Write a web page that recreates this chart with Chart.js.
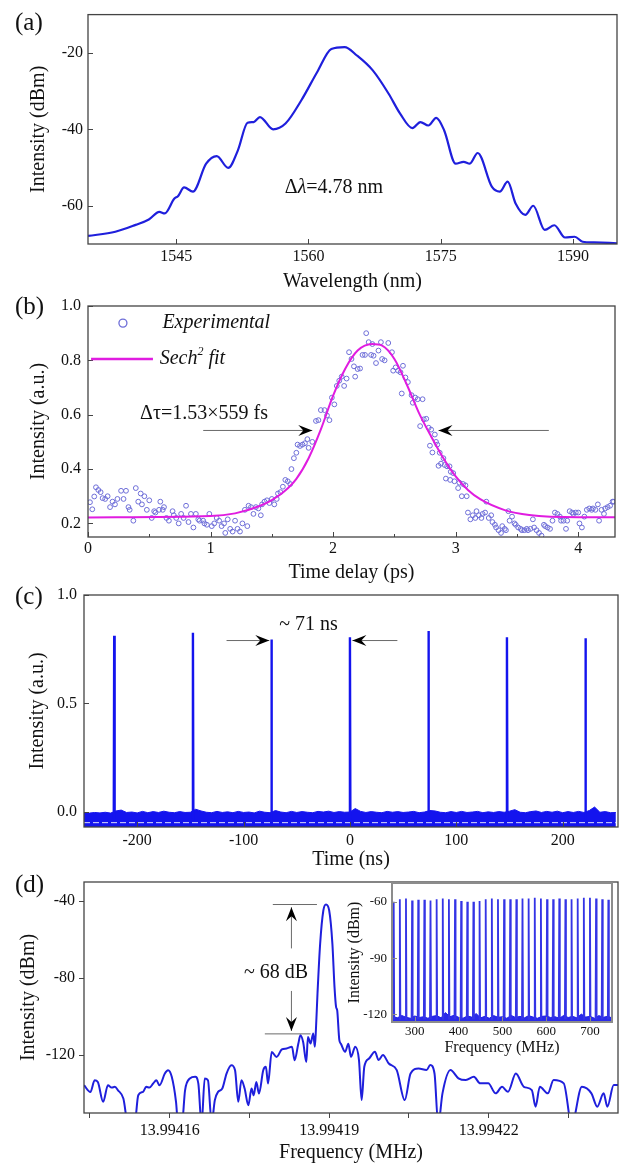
<!DOCTYPE html>
<html lang="en">
<head>
<meta charset="UTF-8">
<title>Mode-locked fiber laser output</title>
<script src="https://cdn.jsdelivr.net/npm/chart.js"></script>
<style>
  body { margin: 0; background: #fff; }
  #page { position: relative; width: 620px; height: 1164px; overflow: hidden; }
  #page canvas { position: absolute; left: 0; top: 0; }
  .tag { position: absolute; left: 15px; font-family: 'Liberation Serif', 'Times New Roman', serif; font-size: 25px; line-height: 26px; color: #111; }
</style>
</head>
<body>
<div id="page">
  <canvas id="chartA" width="620" height="1164"></canvas>
  <canvas id="chartB" width="620" height="1164"></canvas>
  <canvas id="chartC" width="620" height="1164"></canvas>
  <canvas id="chartD" width="620" height="1164"></canvas>
  <canvas id="chartInset" width="620" height="1164"></canvas>
  <div class="tag" style="top:9px">(a)</div>
  <div class="tag" style="top:293px">(b)</div>
  <div class="tag" style="top:583px">(c)</div>
  <div class="tag" style="top:871px">(d)</div>
</div>

<script>
// (a) optical spectrum
const wavelengthNm = [1535, 1538.1, 1540.4, 1541.9, 1543.1, 1543.7, 1544.8, 1545.2, 1545.9, 1546.9, 1548.4, 1549.6, 1550.9, 1552.0, 1553.1, 1553.8, 1554.5, 1556.0, 1557.4, 1559.2, 1561.0, 1562.6, 1564.1, 1565.5, 1567.3, 1569.1, 1570.4, 1571.8, 1572.7, 1573.6, 1574.5, 1575.4, 1576.7, 1577.6, 1578.3, 1579.2, 1580.8, 1581.7, 1582.6, 1583.5, 1584.6, 1585.5, 1586.8, 1587.9, 1589.1, 1590.2, 1591.1, 1592.4, 1595];
const spectrumDbm = [-67.9, -66.8, -65.0, -63.6, -61.6, -62.0, -58.1, -57.5, -55.2, -56.3, -49.0, -47.0, -50.1, -45.5, -38.3, -38.1, -36.8, -40.0, -38.5, -32.4, -25.0, -19.0, -18.5, -20.7, -24.6, -30.7, -35.9, -39.7, -38.1, -39.0, -37.0, -40.3, -49.0, -48.5, -49.0, -46.2, -55.0, -56.3, -53.7, -59.4, -62.4, -60.0, -66.3, -65.1, -68.3, -68.1, -69.4, -69.6, -69.8];
const ticksWavelength = [1545, 1560, 1575, 1590];
const ticksSpectrum = [-60, -40, -20];

// (b) autocorrelation trace
const expTimePs = [0.016, 0.035, 0.051, 0.065, 0.084, 0.103, 0.119, 0.14, 0.16, 0.18, 0.20, 0.22, 0.24, 0.27, 0.29, 0.31, 0.33, 0.34, 0.37, 0.39, 0.41, 0.43, 0.44, 0.46, 0.48, 0.50, 0.52, 0.54, 0.55, 0.58, 0.59, 0.61, 0.62, 0.64, 0.66, 0.69, 0.70, 0.72, 0.74, 0.76, 0.78, 0.80, 0.82, 0.84, 0.86, 0.88, 0.90, 0.91, 0.94, 0.95, 0.97, 0.99, 1.01, 1.03, 1.05, 1.07, 1.09, 1.11, 1.12, 1.14, 1.16, 1.18, 1.20, 1.22, 1.24, 1.26, 1.28, 1.30, 1.31, 1.33, 1.35, 1.37, 1.39, 1.41, 1.42, 1.44, 1.46, 1.48, 1.50, 1.52, 1.54, 1.55, 1.57, 1.59, 1.61, 1.63, 1.65, 1.66, 1.68, 1.70, 1.71, 1.73, 1.75, 1.77, 1.79, 1.80, 1.83, 1.86, 1.88, 1.90, 1.93, 1.95, 1.97, 1.99, 2.01, 2.03, 2.05, 2.07, 2.09, 2.11, 2.13, 2.15, 2.17, 2.18, 2.20, 2.22, 2.24, 2.26, 2.27, 2.29, 2.31, 2.32, 2.33, 2.35, 2.37, 2.39, 2.40, 2.42, 2.45, 2.48, 2.49, 2.51, 2.53, 2.55, 2.56, 2.57, 2.59, 2.61, 2.64, 2.65, 2.67, 2.69, 2.71, 2.73, 2.74, 2.76, 2.78, 2.79, 2.80, 2.81, 2.83, 2.84, 2.85, 2.86, 2.87, 2.88, 2.90, 2.91, 2.92, 2.93, 2.95, 2.955, 2.96, 2.98, 2.99, 3.02, 3.03, 3.05, 3.06, 3.08, 3.09, 3.10, 3.12, 3.14, 3.16, 3.17, 3.19, 3.21, 3.22, 3.24, 3.25, 3.27, 3.29, 3.30, 3.32, 3.33, 3.35, 3.37, 3.38, 3.40, 3.41, 3.43, 3.44, 3.46, 3.48, 3.49, 3.51, 3.53, 3.54, 3.56, 3.58, 3.59, 3.61, 3.63, 3.64, 3.66, 3.68, 3.70, 3.72, 3.73, 3.75, 3.77, 3.79, 3.81, 3.83, 3.85, 3.86, 3.88, 3.90, 3.91, 3.93, 3.95, 3.96, 3.98, 4.00, 4.01, 4.03, 4.05, 4.07, 4.09, 4.11, 4.12, 4.14, 4.16, 4.17, 4.19, 4.21, 4.22, 4.24, 4.26, 4.28, 4.29];
const expSignal = [0.278, 0.252, 0.299, 0.333, 0.323, 0.315, 0.293, 0.29, 0.30, 0.26, 0.28, 0.27, 0.29, 0.32, 0.29, 0.32, 0.26, 0.25, 0.21, 0.33, 0.28, 0.31, 0.27, 0.30, 0.25, 0.285, 0.22, 0.245, 0.24, 0.25, 0.28, 0.25, 0.26, 0.22, 0.21, 0.245, 0.23, 0.22, 0.20, 0.235, 0.22, 0.265, 0.205, 0.235, 0.185, 0.235, 0.215, 0.21, 0.21, 0.20, 0.195, 0.235, 0.19, 0.20, 0.22, 0.21, 0.19, 0.20, 0.165, 0.215, 0.18, 0.17, 0.21, 0.18, 0.17, 0.20, 0.25, 0.19, 0.265, 0.26, 0.235, 0.26, 0.255, 0.23, 0.27, 0.28, 0.285, 0.275, 0.29, 0.27, 0.29, 0.31, 0.315, 0.335, 0.36, 0.355, 0.345, 0.40, 0.44, 0.46, 0.49, 0.485, 0.49, 0.495, 0.51, 0.478, 0.50, 0.577, 0.58, 0.617, 0.617, 0.597, 0.58, 0.663, 0.638, 0.706, 0.725, 0.74, 0.706, 0.733, 0.83, 0.805, 0.778, 0.74, 0.768, 0.77, 0.82, 0.82, 0.90, 0.867, 0.82, 0.86, 0.817, 0.79, 0.836, 0.867, 0.805, 0.80, 0.864, 0.83, 0.762, 0.774, 0.762, 0.756, 0.678, 0.78, 0.737, 0.72, 0.672, 0.644, 0.663, 0.657, 0.558, 0.657, 0.583, 0.585, 0.552, 0.486, 0.545, 0.461, 0.527, 0.50, 0.49, 0.412, 0.46, 0.42, 0.44, 0.415, 0.365, 0.41, 0.41, 0.36, 0.39, 0.385, 0.355, 0.33, 0.35, 0.30, 0.345, 0.34, 0.30, 0.24, 0.215, 0.23, 0.22, 0.245, 0.23, 0.22, 0.235, 0.24, 0.28, 0.22, 0.23, 0.205, 0.195, 0.185, 0.175, 0.165, 0.19, 0.18, 0.175, 0.245, 0.21, 0.225, 0.20, 0.195, 0.185, 0.18, 0.175, 0.175, 0.18, 0.175, 0.18, 0.215, 0.185, 0.175, 0.165, 0.155, 0.195, 0.19, 0.185, 0.18, 0.21, 0.24, 0.235, 0.225, 0.21, 0.21, 0.18, 0.21, 0.245, 0.24, 0.235, 0.24, 0.24, 0.20, 0.185, 0.225, 0.25, 0.255, 0.25, 0.255, 0.25, 0.27, 0.21, 0.25, 0.235, 0.255, 0.26, 0.265, 0.28, 0.28];
const fitTimePs = [0, 1.0, 1.2, 1.4, 1.5, 1.6, 1.7, 1.8, 1.9, 2.0, 2.1, 2.2, 2.32, 2.4, 2.5, 2.6, 2.7, 2.8, 2.9, 3.0, 3.1, 3.2, 3.4, 3.6, 4.0, 4.3];
const fitSignal = [0.222, 0.227, 0.237, 0.264, 0.286, 0.317, 0.364, 0.44, 0.546, 0.67, 0.77, 0.836, 0.86, 0.854, 0.805, 0.712, 0.607, 0.52, 0.44, 0.373, 0.323, 0.289, 0.249, 0.231, 0.223, 0.223];
const ticksDelay = [0, 0.5, 1, 1.5, 2, 2.5, 3, 3.5, 4];
const labelledDelay = [0, 1, 2, 3, 4];
const ticksAutocorr = [0.2, 0.4, 0.6, 0.8, 1.0];

// (c) pulse train
const pulseTimeNs = [-221.6, -147.6, -73.8, 0, 73.8, 147.6, 221.4];
const pulseHeight = [0.812, 0.826, 0.795, 0.805, 0.834, 0.805, 0.80];
const noiseStartNs = -250, noiseStepNs = 5;
const noiseTop = [-0.004, -0.006, -0.003, -0.005, -0.002, -0.006, 0.004, 0.008, -0.003, -0.001, -0.005, 0.002, -0.004, 0.001, -0.003, 0.003, -0.002, -0.004, 0.001, -0.003, -0.002, 0.012, 0.004, -0.002, -0.004, 0.002, -0.003, 0.000, -0.004, 0.002, -0.003, -0.001, -0.005, 0.003, -0.002, -0.004, 0.006, -0.001, -0.004, 0.002, -0.003, 0.001, -0.002, -0.004, 0.002, -0.001, 0.003, -0.003, 0.001, -0.002, -0.001, 0.015, 0.002, -0.003, 0.001, -0.002, -0.004, 0.002, -0.002, 0.001, -0.003, -0.001, 0.002, -0.004, -0.001, 0.006, 0.004, -0.002, -0.004, 0.001, -0.003, 0.002, -0.003, -0.001, 0.002, -0.004, 0.000, -0.003, 0.001, -0.002, 0.003, 0.010, -0.002, -0.004, 0.001, 0.004, -0.003, 0.002, -0.002, 0.003, -0.004, 0.001, -0.003, 0.002, -0.003, 0.006, 0.022, -0.002, 0.001, -0.004, -0.003];
const ticksTime = [-200, -100, 0, 100, 200];
const ticksPulse = [0, 0.5, 1.0];

// (d) RF spectrum, frequency as offset (Hz) from 13.99419 MHz
const centerMHz = 13.99419;
const rfOffsetHz = [-46.1, -44.9, -44.1, -43.5, -42.5, -41.6, -40.9, -40.3, -39.7, -38.7, -37.8, -36.6, -35.9, -35.0, -34.4, -33.8, -33.1, -32.5, -31.9, -30.9, -30.3, -29.6, -28.8, -28.4, -27.7, -27.1, -26.2, -25.2, -24.6, -24.0, -23.4, -22.8, -22.1, -21.5, -20.9, -20.1, -19.3, -18.4, -17.7, -17.1, -16.5, -15.9, -15.2, -14.6, -14.2, -13.7, -13.2, -12.4, -11.9, -11.5, -10.8, -9.9, -8.9, -8.0, -7.0, -6.5, -5.8, -5.4, -4.9, -4.3, -4.0, -3.5, -3.0, -2.7, -2.5, -2.2, -1.7, -1.1, -0.6, 0.0, 0.6, 1.0, 1.3, 1.5, 1.9, 2.2, 3.0, 3.6, 4.1, 4.9, 5.6, 6.1, 6.6, 7.5, 8.6, 9.3, 10.1, 11.2, 12.7, 14.2, 15.3, 16.8, 18.3, 19.0, 19.8, 20.5, 21.3, 22.8, 24.3, 25.7, 27.2, 28.4, 29.9, 31.3, 32.5, 33.6, 35.1, 36.6, 38.1, 38.8, 39.6, 41.1, 42.2, 44.1, 45.6, 47.5, 49.3, 50.4, 51.6, 52.3, 53.5, 54.3];
const rfDbm = [-135.6, -139.1, -133.0, -133.9, -144.2, -135.6, -136.8, -136.4, -138.2, -142.5, -156, -156, -140.8, -139.0, -136.4, -136.8, -134.7, -133.0, -135.6, -129.5, -127.8, -131.2, -144.2, -156, -156, -138.2, -132.1, -131.2, -134.7, -156, -132.1, -133.0, -155, -143.3, -139.0, -137.3, -129.5, -125.2, -127.8, -144.2, -133.0, -137.3, -146.0, -137.3, -140.8, -133.9, -139.9, -127.8, -126.0, -134.7, -118.3, -120.9, -117.0, -116.5, -115.6, -122.6, -113.9, -109.6, -113.1, -123.5, -110.5, -113.9, -108.7, -115.6, -107.0, -88.0, -62.0, -44.8, -41.7, -44.8, -62.0, -84.6, -95.0, -96.6, -112.0, -114.0, -118.2, -114.0, -120.8, -115.6, -122.5, -143.3, -126.0, -121.7, -118.2, -122.5, -119.9, -124.3, -127.7, -143.3, -129.5, -126.9, -127.7, -125.1, -129.5, -156, -139.8, -127.7, -132.0, -132.9, -131.2, -134.6, -134.6, -139.8, -136.4, -139.0, -129.5, -136.4, -138.1, -146.7, -136.4, -139.8, -132.9, -134.6, -156, -136.4, -139.8, -146.7, -139.8, -146.7, -135.5, -135.5];
const ticksRfHz = [-45, -30, -15, 0, 15, 30, 45];
const labelledRfHz = [-30, 0, 30];
const ticksRfDbm = [-120, -80, -40];

// (d) inset: wide-span RF comb
const combMHz = [251.89, 265.89, 279.88, 293.87, 307.87, 321.86, 335.86, 349.85, 363.84, 377.84, 391.83, 405.83, 419.82, 433.81, 447.81, 461.80, 475.80, 489.79, 503.78, 517.78, 531.77, 545.77, 559.76, 573.75, 587.75, 601.74, 615.74, 629.73, 643.72, 657.72, 671.71, 685.71, 699.70, 713.69, 727.69, 741.68];
const combDbm = [-60.0, -58.6, -58.2, -59.3, -58.9, -58.9, -59.3, -58.6, -58.2, -58.6, -58.6, -59.6, -60.0, -60.0, -59.6, -58.6, -58.2, -58.6, -58.6, -58.6, -58.6, -58.2, -58.2, -57.9, -58.2, -58.6, -58.6, -58.2, -58.6, -58.6, -58.2, -57.9, -57.9, -58.2, -58.6, -58.9];
const floorStartMHz = 250, floorStepMHz = 10;
const floorDbm = [-121.0, -121.8, -120.5, -121.5, -122.0, -120.8, -121.6, -121.2, -122.0, -121.0, -120.6, -121.8, -119.0, -121.2, -120.4, -121.5, -122.0, -120.8, -121.4, -119.5, -121.8, -121.0, -122.0, -120.6, -121.5, -121.2, -122.0, -120.5, -121.6, -121.0, -121.8, -120.6, -121.4, -122.0, -121.0, -120.8, -121.6, -121.2, -122.0, -120.5, -121.6, -121.0, -121.8, -119.8, -121.4, -121.0, -122.0, -120.6, -121.5, -121.0, -121.8];
const ticksCombMHz = [300, 400, 500, 600, 700];
const ticksCombDbm = [-120, -90, -60];

const SERIF = "'Liberation Serif', 'Times New Roman', serif";
const INK = '#111';
const FRAME = '#444';
const BLUE = '#1f1fdc';
const GUIDE = '#6a6a6a';

Chart.defaults.font.family = SERIF;
Chart.defaults.color = INK;
Chart.defaults.animation = false;
Chart.defaults.events = [];
Chart.defaults.plugins.legend.display = false;
Chart.defaults.plugins.tooltip.enabled = false;

function drawParts(ctx, parts, x, y, size, align) {
  const fontOf = p => (p.italic ? 'italic ' : '') + (p.sup ? Math.round(size * 0.6) : size) + 'px ' + SERIF;
  let w = 0;
  parts.forEach(p => { ctx.font = fontOf(p); w += ctx.measureText(p.t).width; });
  let cx = align === 'left' ? x : x - w / 2;
  ctx.textAlign = 'left';
  ctx.textBaseline = 'middle';
  ctx.fillStyle = INK;
  parts.forEach(p => {
    ctx.font = fontOf(p);
    ctx.fillText(p.t, cx, p.sup ? y - size * 0.38 : y);
    cx += ctx.measureText(p.t).width;
  });
}

function arrowHead(ctx, x, y, ang) {
  ctx.save();
  ctx.translate(x, y);
  ctx.rotate(ang);
  ctx.beginPath();
  ctx.moveTo(0, 0);
  ctx.lineTo(-14, -5.5);
  ctx.lineTo(-9, 0);
  ctx.lineTo(-14, 5.5);
  ctx.closePath();
  ctx.fillStyle = '#000';
  ctx.fill();
  ctx.restore();
}

// frame, inward ticks and annotations
const deco = {
  id: 'deco',
  afterDatasetsDraw(chart, args, o) {
    const {ctx, chartArea: a} = chart;
    const sx = chart.scales.x, sy = chart.scales.y;
    ctx.save();
    if (o.inward) {
      ctx.strokeStyle = o.frameColor || FRAME;
      ctx.lineWidth = 1;
      ctx.beginPath();
      sx.ticks.forEach(t => {
        const p = Math.round(sx.getPixelForValue(t.value)) + 0.5;
        const len = t.label === '' ? 3 : 5;
        ctx.moveTo(p, a.bottom); ctx.lineTo(p, a.bottom - len);
      });
      sy.ticks.forEach(t => {
        const p = Math.round(sy.getPixelForValue(t.value)) + 0.5;
        ctx.moveTo(a.left, p); ctx.lineTo(a.left + 5, p);
      });
      ctx.stroke();
    }
    ctx.strokeStyle = o.frameColor || FRAME;
    ctx.lineWidth = o.frameWidth || 1.3;
    ctx.strokeRect(a.left, a.top, a.right - a.left, a.bottom - a.top);

    (o.notes || []).forEach(n => {
      if (n.type === 'text') {
        drawParts(ctx, n.parts, sx.getPixelForValue(n.x), sy.getPixelForValue(n.y), n.size || 20, n.align);
      } else if (n.type === 'line' || n.type === 'arrow') {
        const x1 = sx.getPixelForValue(n.x1), y1 = sy.getPixelForValue(n.y1);
        const x2 = sx.getPixelForValue(n.x2), y2 = sy.getPixelForValue(n.y2);
        ctx.beginPath();
        ctx.moveTo(x1, y1); ctx.lineTo(x2, y2);
        ctx.strokeStyle = n.color || GUIDE;
        ctx.lineWidth = n.width || 1;
        ctx.stroke();
        if (n.type === 'arrow') arrowHead(ctx, x2, y2, Math.atan2(y2 - y1, x2 - x1));
      } else if (n.type === 'circle') {
        ctx.beginPath();
        ctx.arc(sx.getPixelForValue(n.x), sy.getPixelForValue(n.y), n.r, 0, Math.PI * 2);
        ctx.strokeStyle = n.color;
        ctx.lineWidth = 1.3;
        ctx.stroke();
      }
    });
    ctx.restore();
  }
};

// box: chart-area edges and title centres, in page pixels
function layoutFor(box) {
  const lh = box.title * 1.2;
  return {padding: {left: 0, right: 620 - box.r, top: box.t, bottom: 1164 - (box.xTitleY + lh / 2)}};
}
function xScale(box, s) {
  const lh = box.title * 1.2;
  return {
    type: 'linear', min: s.min, max: s.max,
    afterBuildTicks: sc => { sc.ticks = s.ticks.map(v => ({value: v})); },
    afterFit: sc => { sc.height = box.xTitleY + lh / 2 - box.b; },
    grid: s.outward ? {display: true, drawOnChartArea: false, drawTicks: true, tickLength: 5, color: FRAME}
                    : {display: false, drawTicks: false},
    border: {display: false},
    ticks: {autoSkip: false, maxRotation: 0, padding: s.pad, color: INK, font: {size: box.tick},
            callback: v => (s.labelled || s.ticks).includes(v) ? s.fmt(v) : ''},
    title: {display: true, text: s.title, color: INK, font: {size: box.title}, padding: {top: 0, bottom: 0}}
  };
}
function yScale(box, s) {
  const lh = box.title * 1.2;
  return {
    type: 'linear', min: s.min, max: s.max,
    afterBuildTicks: sc => { sc.ticks = s.ticks.map(v => ({value: v})); },
    afterFit: sc => { sc.width = box.l; },
    grid: s.outward ? {display: true, drawOnChartArea: false, drawTicks: true, tickLength: 5, color: FRAME}
                    : {display: false, drawTicks: false},
    border: {display: false},
    ticks: {autoSkip: false, padding: s.pad, color: INK, font: {size: box.tick}, callback: v => s.fmt(v)},
    title: {display: true, text: s.title, color: INK, font: {size: box.title}, padding: {top: box.yTitleX - lh / 2, bottom: 0}}
  };
}

// (a)
const boxA = {l: 88, r: 617, t: 14, b: 244, xTitleY: 282, yTitleX: 39, tick: 16, title: 20};
new Chart(document.getElementById('chartA'), {
  type: 'line',
  data: {datasets: [{
    data: wavelengthNm.map((w, i) => ({x: w, y: spectrumDbm[i]})),
    borderColor: BLUE, borderWidth: 2.2, pointRadius: 0, cubicInterpolationMode: 'monotone'
  }]},
  options: {
    responsive: false,
    layout: layoutFor(boxA),
    scales: {
      x: xScale(boxA, {min: 1535, max: 1595, ticks: ticksWavelength, pad: 3, title: 'Wavelength (nm)', fmt: v => String(v)}),
      y: yScale(boxA, {min: -70, max: -10, ticks: ticksSpectrum, pad: 5, title: 'Intensity (dBm)', fmt: v => String(v)})
    },
    plugins: {deco: {inward: true, notes: [
      {type: 'text', x: 1562.9, y: -55.3, parts: [{t: 'Δ'}, {t: 'λ', italic: true}, {t: '=4.78 nm'}]}
    ]}}
  },
  plugins: [deco]
});

// (b)
const boxB = {l: 88, r: 617, t: 306, b: 537, xTitleY: 573, yTitleX: 39, tick: 16, title: 20};
new Chart(document.getElementById('chartB'), {
  type: 'line',
  data: {datasets: [
    {data: fitTimePs.map((t, i) => ({x: t, y: fitSignal[i]})), borderColor: '#e01ce0', borderWidth: 2, pointRadius: 0, cubicInterpolationMode: 'monotone'},
    {data: expTimePs.map((t, i) => ({x: t, y: expSignal[i]})), showLine: false, pointRadius: 2.4, pointBorderWidth: 1,
     pointBorderColor: '#6e6ed8', pointBackgroundColor: 'rgba(0,0,0,0)'}
  ]},
  options: {
    responsive: false,
    layout: layoutFor(boxB),
    scales: {
      x: xScale(boxB, {min: 0, max: 4.3, ticks: ticksDelay, labelled: labelledDelay, pad: 2, title: 'Time delay (ps)', fmt: v => String(v)}),
      y: yScale(boxB, {min: 0.15, max: 1.0, ticks: ticksAutocorr, pad: 7, title: 'Intensity (a.u.)', fmt: v => v.toFixed(1)})
    },
    plugins: {deco: {inward: true, notes: [
      {type: 'circle', x: 0.285, y: 0.937, r: 4, color: '#6e6ed8'},
      {type: 'text', x: 0.607, y: 0.937, align: 'left', parts: [{t: 'Experimental', italic: true}]},
      {type: 'line', x1: 0.025, y1: 0.805, x2: 0.53, y2: 0.805, color: '#e01ce0', width: 2.5},
      {type: 'text', x: 0.585, y: 0.805, align: 'left', parts: [{t: 'Sech', italic: true}, {t: '2', italic: true, sup: true}, {t: ' fit', italic: true}]},
      {type: 'text', x: 0.947, y: 0.605, parts: [{t: 'Δτ=1.53×559 fs'}]},
      {type: 'arrow', x1: 0.94, y1: 0.542, x2: 1.83, y2: 0.542},
      {type: 'arrow', x1: 3.76, y1: 0.542, x2: 2.86, y2: 0.542}
    ]}}
  },
  plugins: [deco]
});

// (c)
const pulsePoints = [];
pulseTimeNs.forEach((t, i) => {
  pulsePoints.push({x: t - 0.4, y: -0.03}, {x: t, y: pulseHeight[i]}, {x: t + 0.4, y: -0.03}, {x: t + 0.5, y: null});
});
const boxC = {l: 84, r: 618, t: 595, b: 827, xTitleY: 860, yTitleX: 38, tick: 16, title: 20};
new Chart(document.getElementById('chartC'), {
  type: 'line',
  data: {datasets: [
    {data: pulsePoints, borderColor: '#1414ee', borderWidth: 2.4, pointRadius: 0, spanGaps: false},
    {data: [{x: -250, y: -0.05}, {x: 250, y: -0.05}], borderColor: 'rgba(255,255,255,0.85)', borderWidth: 1, borderDash: [6, 3], pointRadius: 0},
    {data: noiseTop.map((v, i) => ({x: noiseStartNs + i * noiseStepNs, y: v})), borderColor: '#1414ee', borderWidth: 1,
     backgroundColor: '#1414ee', fill: 'start', pointRadius: 0}
  ]},
  options: {
    responsive: false,
    layout: layoutFor(boxC),
    scales: {
      x: xScale(boxC, {min: -250, max: 252, ticks: ticksTime, pad: 4, title: 'Time (ns)', fmt: v => String(v)}),
      y: yScale(boxC, {min: -0.07, max: 1.0, ticks: ticksPulse, pad: 7, title: 'Intensity (a.u.)', fmt: v => v.toFixed(1)})
    },
    plugins: {deco: {inward: true, notes: [
      {type: 'text', x: -39, y: 0.864, parts: [{t: '~ 71 ns'}]},
      {type: 'arrow', x1: -116, y1: 0.79, x2: -75.8, y2: 0.79},
      {type: 'arrow', x1: 44.6, y1: 0.79, x2: 2.3, y2: 0.79}
    ]}}
  },
  plugins: [deco]
});

// (d)
const boxD = {l: 84, r: 618, t: 882, b: 1113, xTitleY: 1153, yTitleX: 29, tick: 16, title: 20};
new Chart(document.getElementById('chartD'), {
  type: 'line',
  data: {datasets: [{
    data: rfOffsetHz.map((f, i) => ({x: f, y: rfDbm[i]})),
    borderColor: BLUE, borderWidth: 2, pointRadius: 0, cubicInterpolationMode: 'monotone'
  }]},
  options: {
    responsive: false,
    layout: layoutFor(boxD),
    scales: {
      x: xScale(boxD, {min: -46.1, max: 54.3, ticks: ticksRfHz, labelled: labelledRfHz, outward: true, pad: 3,
                       title: 'Frequency (MHz)', fmt: v => (centerMHz + v * 1e-6).toFixed(5)}),
      y: yScale(boxD, {min: -150, max: -30, ticks: ticksRfDbm, outward: true, pad: 4, title: 'Intensity (dBm)', fmt: v => String(v)})
    },
    plugins: {deco: {notes: [
      {type: 'line', x1: -10.6, y1: -41.7, x2: -2.3, y2: -41.7},
      {type: 'line', x1: -12.1, y1: -108.9, x2: -3.5, y2: -108.9},
      {type: 'arrow', x1: -7.1, y1: -64.5, x2: -7.1, y2: -43.1},
      {type: 'arrow', x1: -7.1, y1: -86.6, x2: -7.1, y2: -107.4},
      {type: 'text', x: -10, y: -77.2, parts: [{t: '~ 68 dB'}]}
    ]}}
  },
  plugins: [deco]
});

// (d) inset
const combPoints = [];
combMHz.forEach((f, i) => {
  combPoints.push({x: f - 1.2, y: -122.5}, {x: f, y: combDbm[i]}, {x: f + 1.2, y: -122.5}, {x: f + 1.4, y: null});
});
const boxI = {l: 392, r: 612, t: 883, b: 1022, xTitleY: 1048, yTitleX: 355, tick: 13, title: 16};
new Chart(document.getElementById('chartInset'), {
  type: 'line',
  data: {datasets: [
    {data: combPoints, borderColor: '#3434e6', borderWidth: 1.8, pointRadius: 0, spanGaps: false},
    {data: floorDbm.map((v, i) => ({x: floorStartMHz + i * floorStepMHz, y: v})), borderColor: '#2020e8', borderWidth: 1,
     backgroundColor: '#2a2aea', fill: 'start', pointRadius: 0}
  ]},
  options: {
    responsive: false,
    layout: layoutFor(boxI),
    scales: {
      x: xScale(boxI, {min: 248, max: 750, ticks: ticksCombMHz, pad: 2, title: 'Frequency (MHz)', fmt: v => String(v)}),
      y: yScale(boxI, {min: -124, max: -50, ticks: ticksCombDbm, pad: 5, title: 'Intensity (dBm)', fmt: v => String(v)})
    },
    plugins: {deco: {inward: true, frameColor: '#8c8c8c', frameWidth: 2}}
  },
  plugins: [deco]
});
</script>
</body>
</html>
